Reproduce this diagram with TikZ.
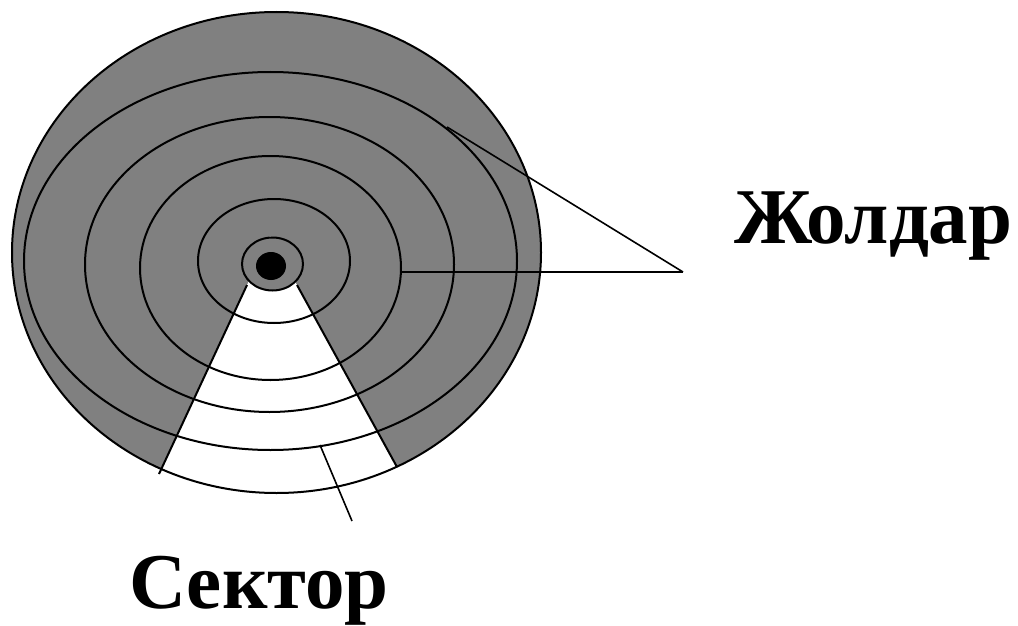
\documentclass[tikz,border=0pt]{standalone}
\usepackage{fontspec}
\setmainfont{Liberation Serif}
\begin{document}
\begin{tikzpicture}[x=1pt,y=-1pt,line width=2pt,
  ring/.style={draw=black},
  lead/.style={draw=black,line width=1.6pt},
  lbl/.style={inner sep=0pt,anchor=base west,font=\fontsize{79}{95}\selectfont\bfseries}]
\definecolor{disk}{RGB}{128,128,128}
\useasboundingbox (0,0) rectangle (1018,626);
\fill[white] (0,0) rectangle (1018,626);
% disk
\fill[disk] (276.5,252.5) ellipse [x radius=264.5pt, y radius=240.5pt];
% white sector
\fill[white] (270,236) -- (137,520) -- (426,520) -- cycle;
% hub
\filldraw[fill=disk,draw=black] (272.5,264) ellipse [x radius=30.5pt, y radius=26.5pt];
\fill[black] (271,266) ellipse [x radius=15pt, y radius=14pt];
% tracks
\draw[ring] (274,261) ellipse [x radius=76pt, y radius=62pt];
\draw[ring] (270.5,268) ellipse [x radius=130.5pt, y radius=112pt];
\draw[ring] (269.5,264.5) ellipse [x radius=184.5pt, y radius=147.5pt];
\draw[ring] (270.5,261) ellipse [x radius=246.5pt, y radius=189pt];
\draw[ring] (276.5,252.5) ellipse [x radius=264.5pt, y radius=240.5pt];
% sector sides
\coordinate (sl1) at (247,285);
\coordinate (sl2) at (159,474);
\coordinate (sr1) at (297,285);
\coordinate (sr2) at (397,467);
\draw[ring] (sl1) -- (sl2);
\draw[ring] (sr1) -- (sr2);
% labels
\node[lbl] (tracks) at (733,243) {Жолдар};
\node[lbl] (sector) at (128,608) {Сектор};
% leaders
\coordinate (j) at (683,272);
\coordinate (t1) at (447,127);
\coordinate (t2) at (401,272);
\coordinate (s1) at (320,445);
\coordinate (s2) at (352,521);
\draw[lead] (t1) -- (j);
\draw[lead] (t2) -- (j);
\draw[lead] (s1) -- (s2);
\end{tikzpicture}
\end{document}
